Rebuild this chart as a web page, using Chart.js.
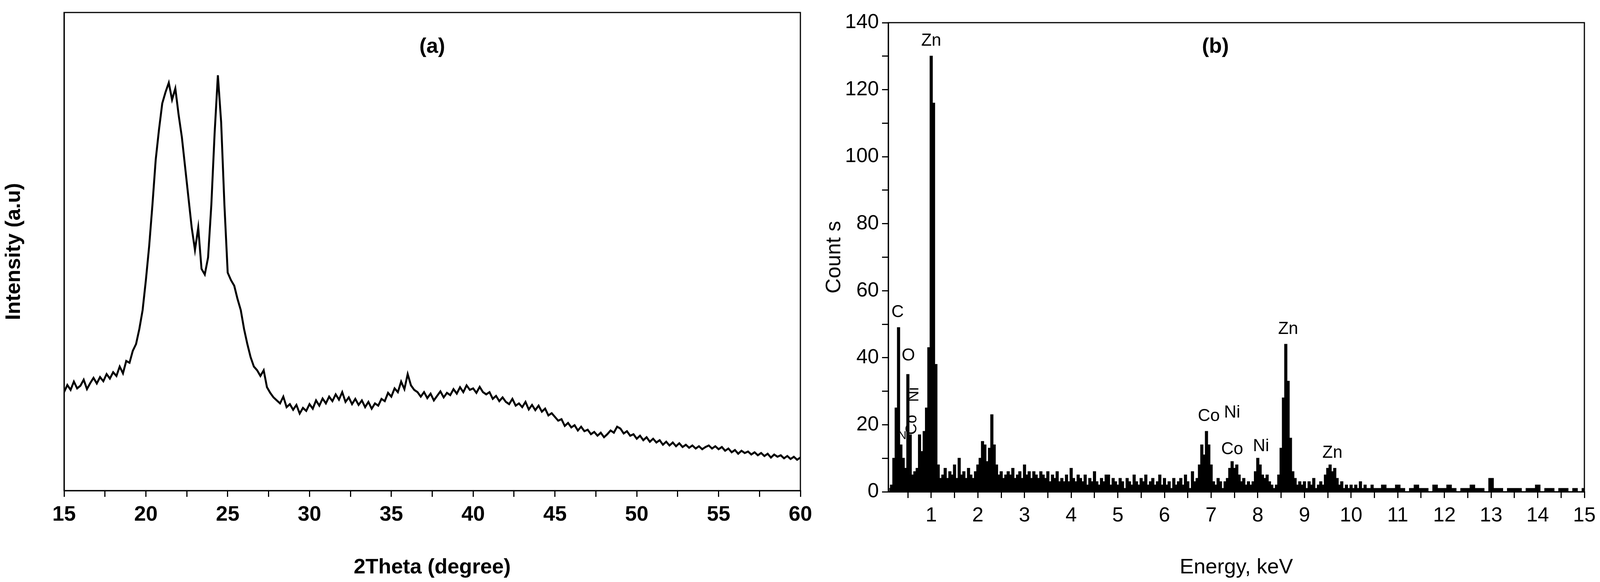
<!DOCTYPE html>
<html lang="en">
<head>
  <meta charset="UTF-8" />
  <title>XRD and EDS</title>
  <script src="https://cdn.jsdelivr.net/npm/chart.js"></script>
  <style>
    body { margin: 0; width: 4146px; height: 1490px; background: #fff; position: relative; overflow: hidden; }
    .panel { position: absolute; top: 0; height: 1490px; }
    #xrdWrap { left: 0; width: 2100px; }
    #edsWrap { left: 2100px; width: 2046px; }
  </style>
</head>
<body>
  <div id="xrdWrap" class="panel"><canvas id="xrdChart"></canvas></div>
  <div id="edsWrap" class="panel"><canvas id="edsChart"></canvas></div>

  <script>
    // (a) XRD pattern, 2theta from 15 to 60 in 0.2 degree steps
    const xrdStart = 15;
    const xrdStep = 0.2;
    const xrdIntensity = [
      262,281,268,290,272,279,295,270,286,300,
      285,302,291,310,298,315,305,330,312,345,
      340,372,390,430,480,560,650,760,880,960,
      1030,1060,1085,1040,1070,1000,940,860,780,700,
      640,700,590,575,620,760,950,1105,980,760,
      580,560,545,510,480,430,390,355,330,320,
      305,320,275,260,248,240,232,250,222,230,
      215,228,205,220,212,230,218,240,226,245,
      232,250,238,256,242,262,236,248,230,244,
      228,240,222,236,218,232,226,244,238,260,
      250,272,262,290,270,310,280,268,262,250,
      262,246,258,240,252,264,248,260,254,270,
      258,275,262,280,268,272,260,276,262,256,
      262,244,252,238,248,236,230,244,226,232,
      222,236,216,228,214,226,210,218,200,206,
      196,186,190,172,180,168,174,160,170,158,
      162,150,156,146,154,142,150,160,154,170,
      165,152,158,146,150,138,146,134,142,130,
      138,128,134,122,130,120,128,118,126,116,
      122,114,120,112,118,110,116,120,112,118,
      110,116,106,112,102,108,98,106,100,104,
      96,102,94,100,92,98,88,96,90,94,
      86,92,84,90,82,88
    ];
    const xrdTicks = [15, 20, 25, 30, 35, 40, 45, 50, 55, 60];

    // (b) EDS spectrum: 0.05 keV steps from 0.1 to 10.5, then 0.1 keV steps to 15
    const edsFine = [
      1,2,10,25,49,14,10,7,35,17,
      5,6,7,17,12,18,25,43,130,116,
      38,8,4,5,7,4,6,5,8,4,
      10,5,6,4,7,5,4,6,8,10,
      15,14,9,13,23,14,8,5,6,4,
      5,6,5,7,4,5,6,4,8,5,
      6,4,6,5,4,6,5,4,6,3,
      5,4,6,3,4,3,5,3,7,4,
      3,5,4,3,5,2,4,3,6,3,
      2,4,3,5,5,2,4,3,2,4,
      3,1,4,3,2,5,3,2,4,3,
      5,2,3,4,2,3,5,2,4,2,
      3,1,4,2,3,4,2,5,3,1,
      6,3,4,8,14,11,18,14,8,3,
      2,4,3,1,3,4,7,9,7,8,
      5,3,4,2,3,2,3,6,10,8,
      5,4,5,3,2,1,2,5,13,28,
      44,33,16,6,4,2,3,2,3,1,
      3,2,4,1,2,3,2,5,7,8,
      6,7,4,2,3,1,2,1,2,1,
      2,1,3,1,2,1,1,2,1
    ];
    const edsCoarse = [
      1,2,1,1,2,1,0,1,2,1,
      1,0,2,1,1,2,1,0,1,1,
      2,1,1,0,4,1,1,0,1,1,
      1,0,1,1,2,0,1,1,0,1,
      1,0,1,0,1
    ];
    const edsLabels = [
      { text: "C",  x: 0.28, y: 51, size: 44 },
      { text: "N",  x: 0.38, y: 15, size: 30 },
      { text: "O",  x: 0.51, y: 38, size: 44 },
      { text: "Co", x: 0.76, y: 20, size: 40, rotate: true },
      { text: "Ni", x: 0.80, y: 29, size: 40, rotate: true },
      { text: "Zn", x: 1.0,  y: 132, size: 44 },
      { text: "Co", x: 6.95, y: 20, size: 44 },
      { text: "Ni", x: 7.45, y: 21, size: 44 },
      { text: "Co", x: 7.45, y: 10, size: 44 },
      { text: "Ni", x: 8.07, y: 11, size: 44 },
      { text: "Zn", x: 8.65, y: 46, size: 44 },
      { text: "Zn", x: 9.6,  y: 9,  size: 44 }
    ];

    const xrdPoints = xrdIntensity.map((v, i) => ({ x: xrdStart + i * xrdStep, y: v }));
    const edsPoints = edsFine.map((v, i) => ({ x: 0.1 + i * 0.05, y: v }))
      .concat(edsCoarse.map((v, i) => ({ x: 10.6 + i * 0.1, y: v })));

    const FONT = "'Liberation Sans Narrow', 'Liberation Sans', Arial, sans-serif";

    // box around the plot area plus a panel tag and peak labels
    const framePlugin = {
      id: "frame",
      afterDraw(chart, args, opts) {
        const { ctx, chartArea: a } = chart;
        ctx.save();
        ctx.strokeStyle = "#000";
        ctx.lineWidth = 3;
        ctx.strokeRect(a.left, a.top, a.right - a.left, a.bottom - a.top);
        ctx.fillStyle = "#000";
        ctx.textAlign = "center";
        ctx.textBaseline = "middle";
        ctx.font = "bold 54px " + FONT;
        ctx.fillText(opts.tag, a.left + (a.right - a.left) * opts.tagX, opts.tagY);
        (opts.labels || []).forEach(l => {
          const px = chart.scales.x.getPixelForValue(l.x);
          const py = chart.scales.y.getPixelForValue(l.y);
          ctx.save();
          ctx.font = l.size + "px " + FONT;
          ctx.translate(px, py);
          if (l.rotate) ctx.rotate(-Math.PI / 2);
          ctx.textBaseline = "bottom";
          ctx.fillText(l.text, 0, 0);
          ctx.restore();
        });
        ctx.restore();
      }
    };

    function axisGrid() {
      return { display: true, drawOnChartArea: false, tickLength: 16, lineWidth: 3, color: "#000" };
    }

    new Chart(document.getElementById("xrdChart"), {
      type: "line",
      data: { datasets: [{ data: xrdPoints, borderColor: "#000", borderWidth: 5, pointRadius: 0, tension: 0 }] },
      options: {
        responsive: true, maintainAspectRatio: false, animation: false,
        layout: { padding: { top: 32, right: 51 } },
        plugins: {
          legend: { display: false }, tooltip: { enabled: false },
          frame: { tag: "(a)", tagX: 0.5, tagY: 120 }
        },
        scales: {
          x: {
            type: "linear", min: 15, max: 60,
            afterBuildTicks: s => { s.ticks = []; for (let i = 0; i <= 18; i++) s.ticks.push({ value: 15 + i * 2.5 }); },
            afterFit: s => { s.height = 234; },
            grid: axisGrid(), border: { color: "#000", width: 3 },
            ticks: {
              color: "#000", padding: 14, maxRotation: 0,
              font: { family: FONT, size: 54, weight: "bold" },
              callback: v => xrdTicks.includes(v) ? v : ""
            },
            title: { display: true, text: "2Theta (degree)", color: "#000", padding: { top: 40 }, font: { family: FONT, size: 54, weight: "bold" } }
          },
          y: {
            min: 0, max: 1272,
            afterFit: s => { s.width = 164; },
            grid: { display: false }, border: { color: "#000", width: 3 },
            ticks: { display: false },
            title: { display: true, text: "Intensity (a.u)", color: "#000", padding: { bottom: 30 }, font: { family: FONT, size: 54, weight: "bold" } }
          }
        }
      },
      plugins: [framePlugin]
    });

    new Chart(document.getElementById("edsChart"), {
      type: "line",
      data: { datasets: [{ data: edsPoints, borderColor: "#000", backgroundColor: "#000", borderWidth: 2, pointRadius: 0, stepped: "middle", fill: "origin" }] },
      options: {
        responsive: true, maintainAspectRatio: false, animation: false,
        layout: { padding: { top: 58, right: 90 } },
        plugins: {
          legend: { display: false }, tooltip: { enabled: false },
          frame: { tag: "(b)", tagX: 0.47, tagY: 120, labels: edsLabels }
        },
        scales: {
          x: {
            type: "linear", min: 0.08, max: 15,
            afterBuildTicks: s => { s.ticks = []; for (let i = 1; i <= 30; i++) s.ticks.push({ value: i * 0.5 }); },
            afterFit: s => { s.height = 231; },
            grid: axisGrid(), border: { color: "#000", width: 3 },
            ticks: {
              color: "#000", padding: 14, maxRotation: 0,
              font: { family: FONT, size: 52 },
              callback: v => Number.isInteger(v) ? v : ""
            },
            title: { display: true, text: "Energy, keV", color: "#000", padding: { top: 40 }, font: { family: FONT, size: 54 } }
          },
          y: {
            min: 0, max: 140,
            afterBuildTicks: s => { s.ticks = []; for (let i = 0; i <= 14; i++) s.ticks.push({ value: i * 10 }); },
            afterFit: s => { s.width = 174; },
            grid: axisGrid(), border: { color: "#000", width: 3 },
            ticks: {
              color: "#000", padding: 8,
              font: { family: FONT, size: 52 },
              callback: v => v % 20 === 0 ? v : ""
            },
            title: { display: true, text: "Count s", color: "#000", padding: { bottom: 6 }, font: { family: FONT, size: 54 } }
          }
        }
      },
      plugins: [framePlugin]
    });
  </script>
</body>
</html>
